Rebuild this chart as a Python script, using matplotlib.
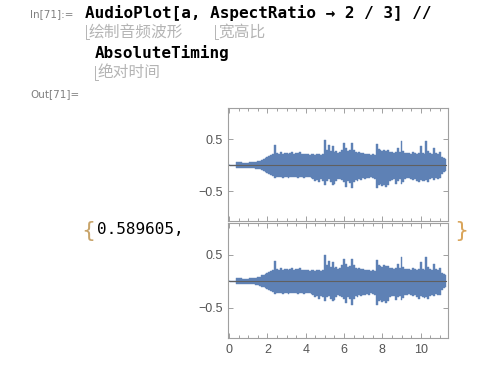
import numpy as np
import matplotlib.pyplot as plt
from matplotlib.lines import Line2D
from matplotlib.ticker import MultipleLocator

# envelope of the waveform, every 0.1 s (both channels look the same)
t = np.round(np.arange(0, 11.31, 0.1), 1)
upper = [0.0, 0.005, 0.005, 0.01, 0.06, 0.07, 0.06, 0.05, 0.05, 0.05,
         0.05, 0.055, 0.06, 0.065, 0.07, 0.08, 0.09, 0.11, 0.12, 0.14,
         0.16, 0.18, 0.20, 0.21, 0.38, 0.24, 0.22, 0.25, 0.22, 0.23,
         0.24, 0.22, 0.23, 0.25, 0.22, 0.24, 0.23, 0.25, 0.22, 0.21,
         0.22, 0.21, 0.20, 0.21, 0.22, 0.20, 0.21, 0.22, 0.20, 0.22,
         0.49, 0.30, 0.38, 0.27, 0.37, 0.25, 0.27, 0.24, 0.26, 0.30,
         0.43, 0.33, 0.27, 0.29, 0.42, 0.30, 0.26, 0.24, 0.25, 0.23,
         0.24, 0.22, 0.21, 0.22, 0.20, 0.21, 0.20, 0.40, 0.31, 0.29,
         0.27, 0.30, 0.28, 0.29, 0.25, 0.26, 0.24, 0.25, 0.33, 0.25,
         0.46, 0.27, 0.24, 0.23, 0.24, 0.22, 0.25, 0.23, 0.22, 0.24,
         0.37, 0.24, 0.21, 0.46, 0.27, 0.24, 0.22, 0.33, 0.23, 0.22,
         0.26, 0.16, 0.14, 0.12]
lower = [0.0, 0.005, 0.005, 0.01, 0.06, 0.06, 0.05, 0.045, 0.045, 0.045,
         0.05, 0.05, 0.055, 0.06, 0.065, 0.07, 0.08, 0.10, 0.11, 0.13,
         0.15, 0.17, 0.19, 0.21, 0.24, 0.22, 0.23, 0.22, 0.24, 0.23,
         0.22, 0.24, 0.23, 0.22, 0.23, 0.22, 0.24, 0.23, 0.22, 0.24,
         0.23, 0.22, 0.23, 0.24, 0.26, 0.30, 0.28, 0.33, 0.27, 0.30,
         0.37, 0.30, 0.27, 0.33, 0.38, 0.36, 0.30, 0.26, 0.27, 0.29,
         0.33, 0.41, 0.30, 0.34, 0.44, 0.33, 0.28, 0.30, 0.26, 0.28,
         0.25, 0.26, 0.24, 0.25, 0.23, 0.24, 0.26, 0.44, 0.38, 0.36,
         0.40, 0.38, 0.41, 0.37, 0.30, 0.28, 0.27, 0.35, 0.30, 0.27,
         0.36, 0.32, 0.26, 0.25, 0.24, 0.26, 0.28, 0.26, 0.30, 0.33,
         0.28, 0.30, 0.31, 0.29, 0.33, 0.27, 0.25, 0.28, 0.24, 0.26,
         0.25, 0.16, 0.13, 0.11]
channels = [(upper, lower), (upper, lower)]
timing = "0.589605"

wave_col = '#5E81B5'
frame_col = '#a0a0a0'
label_col = '#555555'
note_col = '#b4b4b4'

fig = plt.figure(figsize=(5, 3.65), dpi=100)


def fx(x):
    return x / 500


def fy(y):
    return 1 - y / 365


# notebook text
fig.text(fx(30), fy(14), "In[71]:=", fontsize=7.5, color='#808080', va='center')
fig.text(fx(85), fy(13), "AudioPlot[a, AspectRatio \u2192 2 / 3] //", fontsize=11.5,
         family='DejaVu Sans Mono', weight='bold', va='center')
fig.text(fx(95), fy(53), "AbsoluteTiming", fontsize=11.5,
         family='DejaVu Sans Mono', weight='bold', va='center')
cjk = ['Noto Sans CJK SC', 'DejaVu Sans']
fig.text(fx(89), fy(32), "绘制音频波形", fontsize=11.3, family=cjk, color=note_col, va='center')
fig.text(fx(218), fy(32), "宽高比", fontsize=11.3, family=cjk, color=note_col, va='center')
fig.text(fx(98), fy(72), "绝对时间", fontsize=11.3, family=cjk, color=note_col, va='center')
for bx, by0, by1 in [(86, 25, 39), (215, 25, 39), (95, 66, 80)]:
    fig.add_artist(Line2D([fx(bx + 3), fx(bx), fx(bx)], [fy(by1), fy(by1), fy(by0)],
                          color=note_col, lw=0.7))
fig.text(fx(30), fy(94), "Out[71]=", fontsize=7.5, color='#808080', va='center')
fig.text(fx(97), fy(230), timing + ",", fontsize=11.5, family='DejaVu Sans Mono', va='center')
fig.text(fx(95), fy(231), "{", fontsize=16, color='#c8a46a', va='center', ha='right')
fig.text(fx(454), fy(231), "}", fontsize=16, color='#d9a55b', va='center')

# audio panels
boxes = [[0.456, 0.3945, 0.439, 0.3096], [0.456, 0.074, 0.439, 0.315]]
for i, (box, (up, lo)) in enumerate(zip(boxes, channels)):
    ax = fig.add_axes(box)
    ax.fill_between(t, up, -np.array(lo), step='mid', color=wave_col, lw=0.3, edgecolor=wave_col)
    ax.plot([0, 11.32], [0, 0], color='#606060', lw=0.8)
    ax.set_xlim(-0.06, 11.4)
    ax.set_ylim(-1.07, 1.10)
    ax.set_yticks([-0.5, 0.5])
    ax.set_yticklabels(['\u22120.5', '0.5'])
    ax.xaxis.set_major_locator(MultipleLocator(2))
    ax.xaxis.set_minor_locator(MultipleLocator(0.5))
    ax.tick_params(which='both', direction='in', top=True, right=True, colors=frame_col,
                   labelcolor=label_col, labelsize=9, width=0.7)
    ax.tick_params(which='major', length=3.5, pad=4)
    ax.tick_params(which='minor', length=2)
    for lab in ax.get_xticklabels() + ax.get_yticklabels():
        lab.set_family('Liberation Sans')
    if i == 0:
        ax.tick_params(labelbottom=False)
    for s in ax.spines.values():
        s.set_color(frame_col)
        s.set_linewidth(0.8)

fig.savefig('out.png', dpi=100)
